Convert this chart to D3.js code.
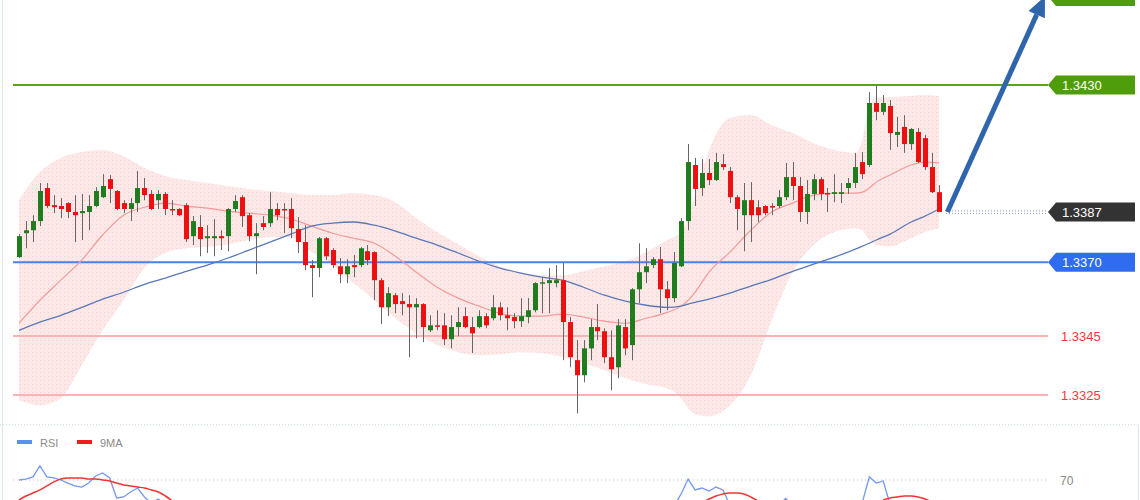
<!DOCTYPE html>
<html><head><meta charset="utf-8">
<script src="https://cdn.jsdelivr.net/npm/d3@7"></script>
<style>html,body{margin:0;padding:0;background:#fff;}svg{display:block;font-family:"Liberation Sans",Arial,sans-serif;}</style>
</head><body><svg id="c" width="1140" height="500"></svg>
<script>
// ---- candle data (133 bars) ----
const open  = [1.33717,1.33798,1.33808,1.33839,1.33951,1.33893,1.33890,1.33900,1.33870,1.33866,1.33870,1.33890,1.33920,1.33981,1.33941,1.33900,1.33880,1.33900,1.33951,1.33931,1.33910,1.33931,1.33880,1.33880,1.33893,1.33788,1.33819,1.33781,1.33781,1.33788,1.33788,1.33880,1.33920,1.33859,1.33788,1.33832,1.33832,1.33880,1.33880,1.33880,1.33812,1.33768,1.33690,1.33680,1.33781,1.33741,1.33686,1.33659,1.33690,1.33690,1.33737,1.33734,1.33639,1.33547,1.33588,1.33568,1.33558,1.33547,1.33558,1.33469,1.33486,1.33486,1.33439,1.33480,1.33517,1.33480,1.33480,1.33517,1.33510,1.33547,1.33520,1.33514,1.33500,1.33514,1.33537,1.33629,1.33629,1.33629,1.33639,1.33497,1.33368,1.33317,1.33408,1.33480,1.33466,1.33378,1.33344,1.33480,1.33419,1.33608,1.33666,1.33690,1.33710,1.33608,1.33578,1.33686,1.33839,1.34029,1.33951,1.34002,1.33978,1.34032,1.34009,1.33920,1.33859,1.33910,1.33886,1.33890,1.33890,1.33890,1.33920,1.33988,1.33958,1.33870,1.33931,1.33981,1.33934,1.33931,1.33931,1.33951,1.33968,1.34039,1.34029,1.34239,1.34209,1.34229,1.34131,1.34158,1.34100,1.34141,1.34120,1.34022,1.33937];
const high  = [1.33795,1.33839,1.33859,1.33968,1.33968,1.33927,1.33917,1.33903,1.33927,1.33931,1.33927,1.33954,1.33998,1.33995,1.33944,1.33910,1.33917,1.34009,1.33985,1.33944,1.33944,1.33937,1.33910,1.33883,1.33900,1.33856,1.33859,1.33825,1.33846,1.33808,1.33883,1.33927,1.33927,1.33866,1.33832,1.33856,1.33937,1.33900,1.33900,1.33917,1.33853,1.33825,1.33707,1.33785,1.33785,1.33747,1.33714,1.33710,1.33724,1.33751,1.33758,1.33737,1.33646,1.33615,1.33595,1.33595,1.33588,1.33578,1.33561,1.33520,1.33537,1.33527,1.33520,1.33547,1.33547,1.33514,1.33537,1.33527,1.33588,1.33564,1.33547,1.33527,1.33578,1.33578,1.33632,1.33649,1.33680,1.33690,1.33697,1.33514,1.33436,1.33436,1.33507,1.33558,1.33476,1.33469,1.33507,1.33507,1.33612,1.33764,1.33747,1.33717,1.33751,1.33636,1.33734,1.33849,1.34100,1.34053,1.34049,1.34049,1.34070,1.34066,1.34022,1.33927,1.33968,1.33971,1.33910,1.33893,1.33900,1.33944,1.34036,1.34039,1.33988,1.33978,1.33998,1.33988,1.33951,1.33998,1.33968,1.33985,1.34070,1.34073,1.34276,1.34300,1.34266,1.34249,1.34192,1.34198,1.34154,1.34154,1.34131,1.34070,1.33961];
const low   = [1.33714,1.33747,1.33768,1.33822,1.33883,1.33866,1.33849,1.33849,1.33768,1.33775,1.33808,1.33886,1.33917,1.33900,1.33876,1.33866,1.33839,1.33870,1.33910,1.33876,1.33880,1.33859,1.33859,1.33856,1.33768,1.33758,1.33720,1.33731,1.33720,1.33741,1.33737,1.33870,1.33819,1.33771,1.33659,1.33808,1.33819,1.33842,1.33798,1.33781,1.33731,1.33673,1.33581,1.33649,1.33707,1.33680,1.33629,1.33629,1.33649,1.33683,1.33690,1.33571,1.33490,1.33517,1.33527,1.33520,1.33378,1.33442,1.33429,1.33463,1.33469,1.33419,1.33408,1.33449,1.33476,1.33392,1.33476,1.33476,1.33503,1.33503,1.33469,1.33476,1.33480,1.33493,1.33530,1.33527,1.33527,1.33615,1.33368,1.33344,1.33188,1.33293,1.33368,1.33436,1.33358,1.33266,1.33307,1.33385,1.33368,1.33561,1.33629,1.33680,1.33527,1.33537,1.33564,1.33683,1.33808,1.33890,1.33924,1.33961,1.33975,1.34012,1.33900,1.33808,1.33737,1.33768,1.33836,1.33859,1.33859,1.33883,1.33910,1.33910,1.33836,1.33829,1.33910,1.33910,1.33870,1.33903,1.33900,1.33931,1.33951,1.33981,1.34022,1.34181,1.34198,1.34080,1.34090,1.34070,1.34080,1.34036,1.34012,1.33934,1.33870];
const close = [1.33788,1.33808,1.33839,1.33941,1.33890,1.33886,1.33880,1.33870,1.33859,1.33873,1.33890,1.33941,1.33958,1.33948,1.33880,1.33880,1.33900,1.33951,1.33927,1.33880,1.33931,1.33880,1.33876,1.33859,1.33778,1.33839,1.33778,1.33788,1.33788,1.33781,1.33880,1.33907,1.33856,1.33788,1.33798,1.33819,1.33880,1.33859,1.33876,1.33815,1.33768,1.33690,1.33680,1.33781,1.33720,1.33690,1.33659,1.33686,1.33683,1.33747,1.33707,1.33639,1.33547,1.33595,1.33558,1.33558,1.33547,1.33558,1.33480,1.33486,1.33483,1.33439,1.33480,1.33497,1.33480,1.33459,1.33517,1.33486,1.33547,1.33520,1.33510,1.33500,1.33517,1.33537,1.33629,1.33632,1.33639,1.33639,1.33497,1.33378,1.33317,1.33408,1.33480,1.33466,1.33378,1.33337,1.33486,1.33408,1.33608,1.33666,1.33686,1.33710,1.33608,1.33578,1.33697,1.33839,1.34039,1.33948,1.34002,1.33978,1.34039,1.34022,1.33920,1.33880,1.33910,1.33859,1.33859,1.33866,1.33886,1.33920,1.33988,1.33958,1.33870,1.33931,1.33981,1.33931,1.33931,1.33937,1.33937,1.33968,1.34022,1.33998,1.34239,1.34209,1.34239,1.34137,1.34141,1.34100,1.34151,1.34039,1.34022,1.33937,1.33870];

// ---- indicator samples (bar index -> price) ----
const bandIdx = [0,3,6,9,12,15,18,21,24,27,30,33,36,39,42,45,48,51,54,57,60,63,66,69,72,75,78,81,84,87,90,93,95,96,97,99,102,105,108,111,114,117,120,121,122,123,125,128,130,132];
const bbUpper = [1.33910,1.34005,1.34053,1.34073,1.34080,1.34059,1.34019,1.33992,1.33978,1.33968,1.33958,1.33948,1.33941,1.33934,1.33927,1.33927,1.33934,1.33927,1.33903,1.33849,1.33802,1.33761,1.33720,1.33686,1.33666,1.33656,1.33656,1.33669,1.33686,1.33703,1.33734,1.33775,1.33802,1.33849,1.33927,1.34080,1.34188,1.34198,1.34164,1.34137,1.34103,1.34080,1.34070,1.34114,1.34232,1.34256,1.34259,1.34263,1.34266,1.34263];
const bbLower = [1.33232,1.33215,1.33239,1.33351,1.33469,1.33571,1.33680,1.33731,1.33747,1.33751,1.33761,1.33775,1.33785,1.33785,1.33734,1.33690,1.33629,1.33571,1.33510,1.33459,1.33419,1.33395,1.33385,1.33388,1.33395,1.33392,1.33378,1.33358,1.33334,1.33307,1.33286,1.33273,1.33239,1.33205,1.33185,1.33178,1.33215,1.33317,1.33503,1.33666,1.33758,1.33802,1.33815,1.33808,1.33775,1.33758,1.33754,1.33781,1.33802,1.33815];
const bbMid   = [1.33493,1.33571,1.33639,1.33707,1.33792,1.33859,1.33886,1.33900,1.33890,1.33883,1.33873,1.33866,1.33859,1.33846,1.33822,1.33798,1.33781,1.33764,1.33720,1.33666,1.33615,1.33578,1.33551,1.33527,1.33517,1.33517,1.33524,1.33514,1.33500,1.33493,1.33510,1.33530,1.33551,1.33571,1.33598,1.33666,1.33734,1.33808,1.33870,1.33900,1.33927,1.33934,1.33934,1.33937,1.33951,1.33971,1.33995,1.34029,1.34039,1.34036];
const maSlow  = [1.33469,1.33497,1.33520,1.33547,1.33575,1.33598,1.33625,1.33646,1.33669,1.33690,1.33714,1.33741,1.33768,1.33795,1.33822,1.33832,1.33836,1.33825,1.33805,1.33781,1.33758,1.33731,1.33703,1.33680,1.33663,1.33649,1.33639,1.33615,1.33588,1.33568,1.33554,1.33547,1.33551,1.33558,1.33564,1.33575,1.33595,1.33619,1.33642,1.33669,1.33693,1.33717,1.33744,1.33754,1.33764,1.33775,1.33795,1.33836,1.33856,1.33880];

// ---- levels ----
const resistance = 1.3430, target = 1.3460, pivot = 1.3370, lastPrice = 1.3387;
const supports = [1.3345, 1.3325];

// ---- RSI panel (visible parts only: [bar index, value]) ----
const rsiSegs = [
  [[0,70],[1,70.6],[2,71.9],[3,78.8],[4,71.9],[5,71.3],[6,70],[7,68.1],[8,66.3],[9,65.6],[10,68.1],[11,72.5],[12,74.4],[13,71.3],[14,58.8],[15,59.4],[16,62.5],[17,65],[18,59.4],[19,55.6],[20,58.1],[21,53.8]],
  [[94,53.8],[95,61.3],[96,70.6],[97,63.8],[98,65],[99,63.1],[100,65.6],[101,63.8],[102,54.4]],
  [[109,54],[110,58.5],[111,54]],
  [[121,56],[122,71.9],[123,68.1],[124,69.4],[125,54.4]]
];
const ma9Segs = [
  [[0,57.5],[1,60],[2,61.9],[3,63.8],[4,66.3],[5,68.8],[6,70.6],[7,71.3],[8,71.3],[9,71.3],[10,70.6],[11,70.6],[12,70],[13,69.4],[14,68.1],[15,66.9],[16,66.3],[17,65.6],[18,65],[19,63.8],[20,62.5],[21,60],[22,56.9]],
  [[98,55.6],[99,58.1],[100,60],[101,61.3],[102,61.9],[103,61.9],[104,61.3],[105,59.4],[106,56.9]],
  [[124,57.5],[125,58.8],[126,59.4],[127,60],[128,60],[129,59.4],[130,58.1],[131,56.3]]
];
const rsiLevels = [70];

// ---- drawing ----
const svg = d3.select('#c');
const x = d3.scaleLinear().domain([0,132]).range([19,939]);
const y = d3.scaleLinear().domain([1.3325,1.3430]).range([395,85]);
const yr = d3.scaleLinear().domain([70,100]).range([480,432]);

const defs = svg.append('defs');
const pat = defs.append('pattern').attr('id','dots').attr('width',4).attr('height',4).attr('patternUnits','userSpaceOnUse');
pat.append('rect').attr('width',4).attr('height',4).attr('fill','#fde8e8');
pat.append('rect').attr('x',0).attr('y',0).attr('width',1).attr('height',1).attr('fill','#f8d0d0');

// frame lines
svg.append('line').attr('x1',2.5).attr('x2',2.5).attr('y1',0).attr('y2',500).attr('stroke','#dde6ee').attr('stroke-width',1);
svg.append('line').attr('x1',0).attr('x2',1140).attr('y1',424.5).attr('y2',424.5).attr('stroke','#cfe2e8').attr('stroke-dasharray','1,2');
svg.append('line').attr('x1',1138.5).attr('x2',1138.5).attr('y1',425).attr('y2',500).attr('stroke','#dde6ee');

const bandPts = bandIdx.map((d,i)=>({i:d,u:bbUpper[i],l:bbLower[i],m:bbMid[i],s:maSlow[i]}));
svg.append('path').datum(bandPts)
  .attr('d', d3.area().curve(d3.curveMonotoneX).x(d=>x(d.i)).y0(d=>y(d.l)).y1(d=>y(d.u)))
  .attr('fill','url(#dots)');

// horizontal levels
const lvl = (v,color,w)=>svg.append('line').attr('x1',13).attr('x2',1048)
  .attr('y1',y(v)).attr('y2',y(v)).attr('stroke',color).attr('stroke-width',w);
supports.forEach(v=>lvl(v,'#f8b4b4',2));
lvl(pivot,'#4a80ec',2);
lvl(resistance,'#5aa514',2);

svg.append('path').datum(bandPts)
  .attr('d', d3.line().curve(d3.curveMonotoneX).x(d=>x(d.i)).y(d=>y(d.m)))
  .attr('fill','none').attr('stroke','#f59a9a').attr('stroke-width',1.2);
svg.append('path').datum(bandPts)
  .attr('d', d3.line().curve(d3.curveMonotoneX).x(d=>x(d.i)).y(d=>y(d.s)))
  .attr('fill','none').attr('stroke','#5a78b8').attr('stroke-width',1.3);

// candles
const idx = d3.range(open.length);
const cg = svg.append('g');
cg.selectAll('line').data(idx).join('line')
  .attr('x1',i=>Math.round(x(i))+0.5).attr('x2',i=>Math.round(x(i))+0.5)
  .attr('y1',i=>y(high[i])).attr('y2',i=>y(low[i]))
  .attr('stroke','#666').attr('stroke-width',1);
cg.selectAll('rect').data(idx).join('rect')
  .attr('x',i=>Math.round(x(i))-2).attr('width',5)
  .attr('y',i=>y(Math.max(open[i],close[i])))
  .attr('height',i=>Math.max(1.5,Math.abs(y(open[i])-y(close[i]))))
  .attr('fill',i=>close[i]>=open[i]?'#1f7d1f':'#ec1010');

// last price dotted line
const lastY = y(lastPrice);
[-1,1.5].forEach(o=>svg.append('line').attr('x1',946).attr('x2',1048).attr('y1',lastY+o).attr('y2',lastY+o)
  .attr('stroke','#8f9bb5').attr('stroke-width',1).attr('stroke-dasharray','1,2'));

// arrow
const ax0 = x(133.2), ay0 = y(lastPrice), ax1 = x(147.2), ay1 = y(target);
const ang = Math.atan2(ay1-ay0, ax1-ax0);
const hl = 20, hw = 9;
const bx = ax1 - hl*Math.cos(ang), by = ay1 - hl*Math.sin(ang);
svg.append('line').attr('x1',ax0).attr('y1',ay0).attr('x2',bx).attr('y2',by)
  .attr('stroke','#2f65ab').attr('stroke-width',5);
svg.append('path').attr('fill','#2f65ab')
  .attr('d',`M${ax1},${ay1}L${bx+hw*Math.sin(ang)},${by-hw*Math.cos(ang)}L${bx-hw*Math.sin(ang)},${by+hw*Math.cos(ang)}Z`);

// price tags
function tag(v, fill, showText){
  const c = y(v);
  svg.append('path').attr('fill',fill)
    .attr('d',`M1048,${c}L1056,${c-9.5}L1135,${c-9.5}L1135,${c+9.5}L1056,${c+9.5}Z`);
  if (showText) svg.append('text').attr('x',1062).attr('y',c+4.8).attr('fill','#fff')
    .attr('font-size',13).text(v.toFixed(4));
}
tag(target,'#4f9d0a', false); // target tag sits above the top edge; only its lower rim shows
tag(resistance,'#4f9d0a', true);
tag(lastPrice,'#333333', true);
tag(pivot,'#2f6cf0', true);
supports.forEach(v=>svg.append('text').attr('x',1061).attr('y',y(v)+4.8)
  .attr('fill','#f03a3a').attr('font-size',13).text(v.toFixed(4)));

// RSI panel
svg.append('rect').attr('x',17).attr('y',440).attr('width',15).attr('height',4).attr('fill','#5f8fee');
svg.append('text').attr('x',40).attr('y',446.5).attr('fill','#8a8a8a').attr('font-size',11).text('RSI');
svg.append('rect').attr('x',77).attr('y',440).attr('width',15).attr('height',4).attr('fill','#ee1c1c');
svg.append('text').attr('x',100).attr('y',446.5).attr('fill','#8a8a8a').attr('font-size',11).text('9MA');
rsiLevels.forEach(v=>{
  svg.append('line').attr('x1',13).attr('x2',1047).attr('y1',yr(v)).attr('y2',yr(v))
    .attr('stroke','#c4c4c4').attr('stroke-dasharray','1,3');
  svg.append('text').attr('x',1060).attr('y',yr(v)+4.5).attr('fill','#888').attr('font-size',12).text(v);
});
const rl = d3.line().x(d=>x(d[0])).y(d=>yr(d[1]));
rsiSegs.forEach(s=>svg.append('path').attr('d',rl(s)).attr('fill','none').attr('stroke','#7398ee').attr('stroke-width',1.3));
const ml = d3.line().curve(d3.curveMonotoneX).x(d=>x(d[0])).y(d=>yr(d[1]));
ma9Segs.forEach(s=>svg.append('path').attr('d',ml(s)).attr('fill','none').attr('stroke','#f03434').attr('stroke-width',1.5));
</script></body></html>
